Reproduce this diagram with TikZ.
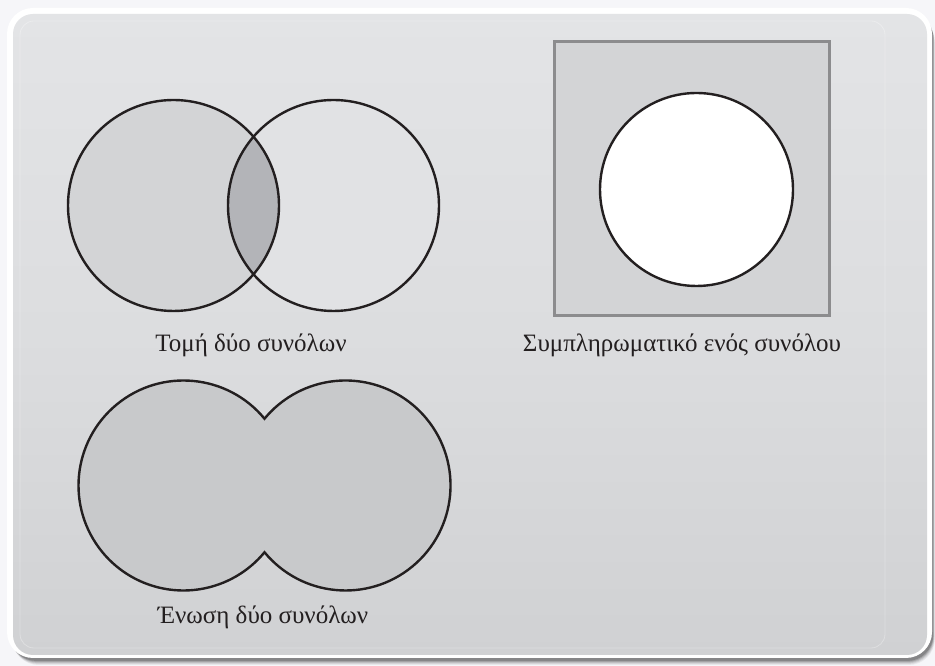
\documentclass[tikz,border=0pt]{standalone}
\usepackage{fontspec}
\setmainfont{Liberation Serif}
\usetikzlibrary{calc}
\definecolor{ink}{HTML}{231F20}
\definecolor{pagebg}{HTML}{F6F6F9}
\definecolor{panelTop}{HTML}{E3E4E6}
\definecolor{panelMid}{HTML}{DCDDDF}
\definecolor{panelBot}{HTML}{D0D1D3}
\definecolor{setA}{HTML}{D3D4D6}
\definecolor{setB}{HTML}{E1E2E4}
\definecolor{lens}{HTML}{B3B4B8}
\definecolor{unionfill}{HTML}{C8C9CB}
\definecolor{framegray}{HTML}{8C8C8E}
\tikzset{
  outline/.style={draw=ink, line width=2.4pt},
  caption/.style={text=ink, font=\fontsize{25}{29}\selectfont, anchor=base, inner sep=0pt},
}
\begin{document}
\begin{tikzpicture}[x=1pt,y=1pt]
% page and panel
\fill[pagebg] (0,0) rectangle (935,666);
\useasboundingbox (0,0) rectangle (935,666);
% soft drop shadow, offset towards the lower right
\foreach \o/\a in {7/0.06,6/0.08,5/0.10,4/0.14,3/0.18}
  \fill[black, opacity=\a, rounded corners=26pt] (9+\o*0.5,8-\o) rectangle (932+\o*0.4,658-\o*1.2);
\fill[white, rounded corners=26pt] (7,8) rectangle (932,658);
\shade[top color=panelTop, bottom color=panelBot, middle color=panelMid, rounded corners=20pt]
  (13,11) rectangle (927,652);
\draw[white, opacity=0.3, line width=0.8pt, rounded corners=14pt] (20,18) rectangle (885,645);

% intersection of two sets
\coordinate (iL) at (173.5,460.5);
\coordinate (iR) at (333.5,460.5);
\fill[setA] (iL) circle[radius=105.5];
\fill[setB] (iR) circle[radius=105.5];
\begin{scope}
  \clip (iL) circle[radius=105.5];
  \fill[lens] (iR) circle[radius=105.5];
\end{scope}
\draw[outline] (iL) circle[radius=105.5];
\draw[outline] (iR) circle[radius=105.5];
\node[caption] (capI) at (251,314) {Τομή δύο συνόλων};

% complement of a set
\coordinate (uSW) at (554,350);
\coordinate (uNE) at (829,624);
\coordinate (cC) at (696.5,476.5);
\filldraw[fill=setA, draw=framegray, line width=3pt] (uSW) rectangle (uNE);
\filldraw[fill=white, outline] (cC) circle[radius=96.5];
\node[caption] (capC) at (682,314) {Συμπληρωματικό ενός συνόλου};

% union of two sets
\coordinate (uL) at (183.5,180.5);
\coordinate (uR) at (345.5,180.5);
\filldraw[fill=unionfill, outline]
  ($(uL)+(39.5:105)$) arc[start angle=39.5, end angle=320.5, radius=105]
  arc[start angle=-140.5, end angle=140.5, radius=105] -- cycle;
\node[caption] (capU) at (263,42) {Ένωση δύο συνόλων};
\end{tikzpicture}
\end{document}
